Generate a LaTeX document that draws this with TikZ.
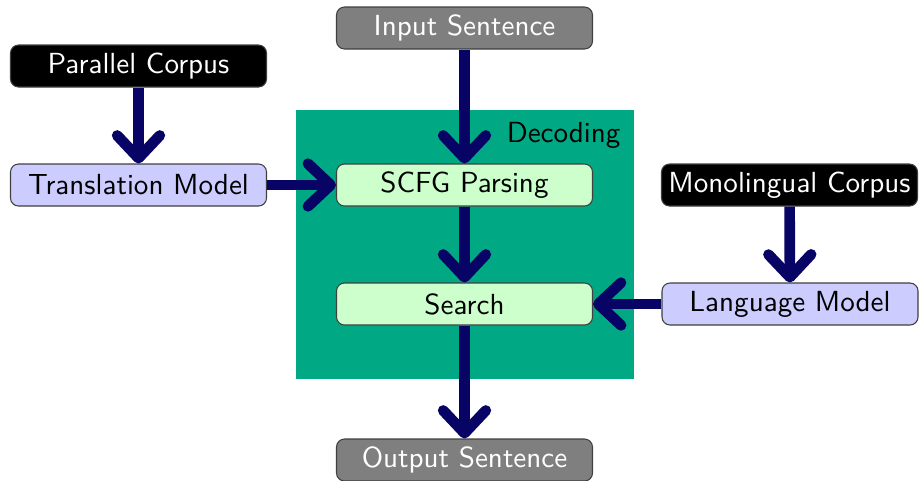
\documentclass[tikz,border=0pt]{standalone}
\usetikzlibrary{arrows.meta}
\definecolor{decod}{RGB}{0,168,132}
\definecolor{arrcol}{RGB}{8,4,102}
\definecolor{modelfill}{RGB}{204,204,255}
\definecolor{stepfill}{RGB}{204,255,204}
\definecolor{iofill}{RGB}{127,127,127}
\begin{document}
\begin{tikzpicture}[x=0.375pt,y=-0.375pt,
  font=\sffamily\fontsize{10.9}{13}\selectfont,
  box/.style={rounded corners=3pt, minimum width=96pt, minimum height=15.75pt, inner sep=1pt, draw=black!75, line width=0.4pt},
  corpus/.style={box, fill=black, text=white},
  iobox/.style={box, fill=iofill, text=white},
  modelbox/.style={box, fill=modelfill},
  stepbox/.style={box, fill=stepfill},
  flow/.style={draw=arrcol, line width=4pt, -{Straight Barb[length=8.5pt,width=16pt,round]}}
]
\useasboundingbox (0,0) rectangle (920,480);
\fill[decod] (296,110) rectangle (634,379);
\node[anchor=base east, inner sep=0pt] (declabel) at (621,142) {Decoding};

\node[iobox] (input) at (464.5,28) {Input Sentence};
\node[corpus] (parallel) at (138.5,66) {Parallel Corpus};
\node[modelbox] (tm) at (138.5,185) {Translation Model};
\node[stepbox] (scfg) at (464.5,185) {SCFG Parsing};
\node[corpus] (mono) at (789.5,185) {Monolingual Corpus};
\node[stepbox] (search) at (464.5,304) {Search};
\node[modelbox] (lm) at (790,304) {Language Model};
\node[iobox] (output) at (464.5,460) {Output Sentence};

\draw[flow] (input) -- (scfg);
\draw[flow] (parallel) -- (tm);
\draw[flow] (tm) -- (scfg);
\draw[flow] (scfg) -- (search);
\draw[flow] (mono) -- (lm);
\draw[flow] (lm) -- (search);
\draw[flow] (search) -- (output);
\end{tikzpicture}
\end{document}
